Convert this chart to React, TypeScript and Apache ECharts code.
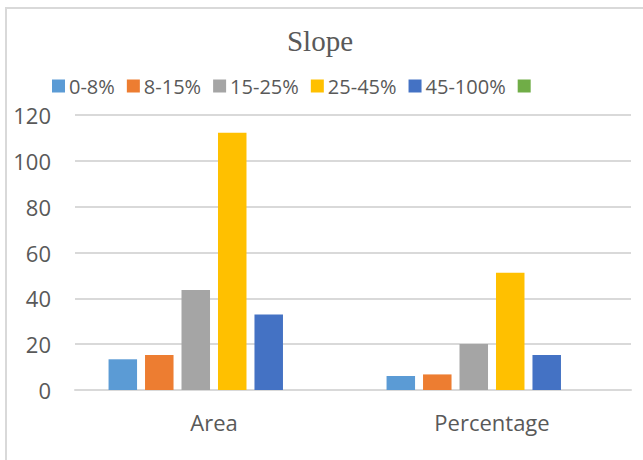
import React, { useEffect, useRef } from "react";
import * as echarts from "echarts";

const categories = ["Area", "Percentage"];
const seriesNames = ["0-8%", "8-15%", "15-25%", "25-45%", "45-100%", " "];
const s0_8 = [13.4, 6.1];
const s8_15 = [15.3, 6.8];
const s15_25 = [43.6, 20.1];
const s25_45 = [112.3, 51.2];
const s45_100 = [32.9, 15.3];
const sEmpty: (number | null)[] = [null, null];
const colors = ["#5b9bd5", "#ed7d31", "#a5a5a5", "#ffc000", "#4472c4", "#70ad47"];

const FONT = "'Open Sans', 'Noto Sans', sans-serif";

export default function App() {
  const ref = useRef<HTMLDivElement>(null);
  useEffect(() => {
    document.body.style.margin = "0";
    if (!ref.current) return;
    const chart = echarts.init(ref.current, null, { renderer: "svg" });
    const data = [s0_8, s8_15, s15_25, s25_45, s45_100, sEmpty];
    chart.setOption({
      animation: false,
      backgroundColor: "#ffffff",
      title: {
        text: "Slope",
        left: 315,
        textAlign: "center",
        top: 21,
        textStyle: {
          fontFamily: "'Liberation Serif', serif",
          fontSize: 29,
          fontWeight: "normal",
          color: "#595959",
        },
      },
      legend: {
        left: 52,
        top: 76,
        padding: 0,
        itemWidth: 13,
        itemHeight: 13,
        itemGap: 12,
        icon: "rect",
        data: seriesNames,
        textStyle: { fontFamily: FONT, fontSize: 20, color: "#595959", padding: [0, 0, 0, -1] },
      },
      grid: { left: 75, right: 12, top: 115, bottom: 70, containLabel: false },
      xAxis: {
        type: "category",
        data: categories,
        axisLine: { lineStyle: { color: "#d9d9d9", width: 2 } },
        axisTick: { show: false },
        axisLabel: { fontFamily: FONT, fontSize: 22, color: "#595959", margin: 21 },
      },
      yAxis: {
        type: "value",
        min: 0,
        max: 120,
        interval: 20,
        axisLine: { show: false },
        axisTick: { show: false },
        splitLine: { lineStyle: { color: "#d9d9d9", width: 2 } },
        axisLabel: { fontFamily: FONT, fontSize: 22, color: "#595959", margin: 24 },
      },
      graphic: [
        { type: "line", shape: { x1: 5, y1: 8, x2: 643, y2: 8 }, style: { stroke: "#d9d9d9", lineWidth: 2 } },
        { type: "line", shape: { x1: 6, y1: 8, x2: 6, y2: 460 }, style: { stroke: "#d9d9d9", lineWidth: 2 } },
      ],
      series: seriesNames.map((name, i) => ({
        name,
        type: "bar",
        data: data[i],
        barWidth: 28.5,
        barGap: "28%",
        itemStyle: { color: colors[i] },
      })),
    });
    return () => chart.dispose();
  }, []);
  return <div ref={ref} style={{ width: 643, height: 460 }} />;
}
